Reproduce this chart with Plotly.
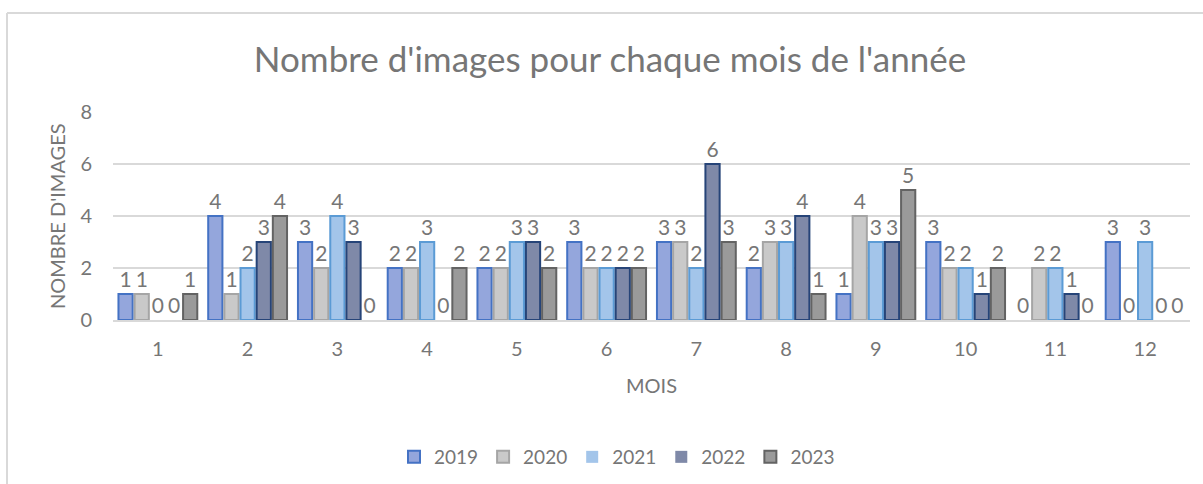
import plotly.graph_objects as go

months = [str(m) for m in range(1, 13)]
years = ["2019", "2020", "2021", "2022", "2023"]
v2019 = [1, 4, 3, 2, 2, 3, 3, 2, 1, 3, 0, 3]
v2020 = [1, 1, 2, 2, 2, 2, 3, 3, 4, 2, 2, 0]
v2021 = [0, 2, 4, 3, 3, 2, 2, 3, 3, 2, 2, 3]
v2022 = [0, 3, 3, 0, 3, 2, 6, 4, 3, 1, 1, 0]
v2023 = [1, 4, 0, 2, 2, 2, 3, 1, 5, 2, 0, 0]
series = [v2019, v2020, v2021, v2022, v2023]

fills = ["#94a6dc", "#c9c9c9", "#a3c5ea", "#7f89a8", "#9a9a9a"]
borders = ["#4472c4", "#a5a5a5", "#5b9bd5", "#264478", "#636363"]

FONT = "Lato"
GREY = "#767676"
L, R, T, B = 113, 13, 112, 164
PW, PH = 1203 - L - R, 484 - T - B

fig = go.Figure()
for y, vals, fc, bc in zip(years, series, fills, borders):
    fig.add_trace(go.Bar(
        x=months, y=vals, name=y,
        marker=dict(color=fc, line=dict(color=bc, width=[2 if v else 0 for v in vals])),
        text=vals, textposition="outside", constraintext="none",
        textfont=dict(family=FONT, size=21, color=GREY),
        cliponaxis=False,
    ))

fig.update_layout(
    width=1203, height=484,
    paper_bgcolor="white", plot_bgcolor="white",
    margin=dict(l=L, r=R, t=T, b=B, autoexpand=False),
    barmode="group", bargap=0.1, bargroupgap=0.12,
    font=dict(family=FONT, color=GREY),
    title=dict(text="Nombre d'images pour chaque mois de l'année",
               x=610 / 1203, xanchor="center", y=(484 - 60) / 484, yanchor="middle",
               font=dict(family=FONT, size=35, color=GREY)),
    legend=dict(orientation="h", x=(617 - L) / PW, xanchor="center", y=-(457 - 320) / PH,
                yanchor="middle", font=dict(family=FONT, size=19, color=GREY),
                traceorder="normal", itemwidth=30),
    showlegend=True,
)
fig.update_xaxes(
    type="category", showgrid=False, showline=True, linecolor="#d9d9d9", linewidth=2,
    ticks="", ticklabelstandoff=10, automargin=False,
    tickfont=dict(family=FONT, size=20, color=GREY),
)
fig.update_yaxes(
    range=[0, 8], dtick=2, showgrid=True, gridcolor="#d9d9d9", gridwidth=1.5,
    zeroline=False, showline=False, ticks="", ticklabelstandoff=20, automargin=False,
    tickfont=dict(family=FONT, size=20, color=GREY),
)
fig.add_annotation(text="MOIS", xref="paper", yref="paper", x=0.5, y=-(385 - 320) / PH,
                   xanchor="center", yanchor="middle", showarrow=False,
                   font=dict(family=FONT, size=20, color=GREY))
fig.add_annotation(text="NOMBRE D'IMAGES", xref="paper", yref="paper", x=-(113 - 57) / PW,
                   y=(320 - 216) / PH, xanchor="center", yanchor="middle", textangle=-90,
                   showarrow=False, font=dict(family=FONT, size=20, color=GREY))
# chart frame (left and top edges)
fx = -(L - 7) / PW
fy = (320 - 13) / PH
fig.add_shape(type="line", xref="paper", yref="paper",
              x0=fx, x1=fx, y0=fy, y1=-(484 - 320) / PH,
              line=dict(color="#d9d9d9", width=2))
fig.add_shape(type="line", xref="paper", yref="paper",
              x0=fx, x1=(1203 - L) / PW, y0=fy, y1=fy,
              line=dict(color="#d9d9d9", width=2))

fig.write_html("out.html", config={"displayModeBar": False},
               post_script="document.body.style.margin='0';")
